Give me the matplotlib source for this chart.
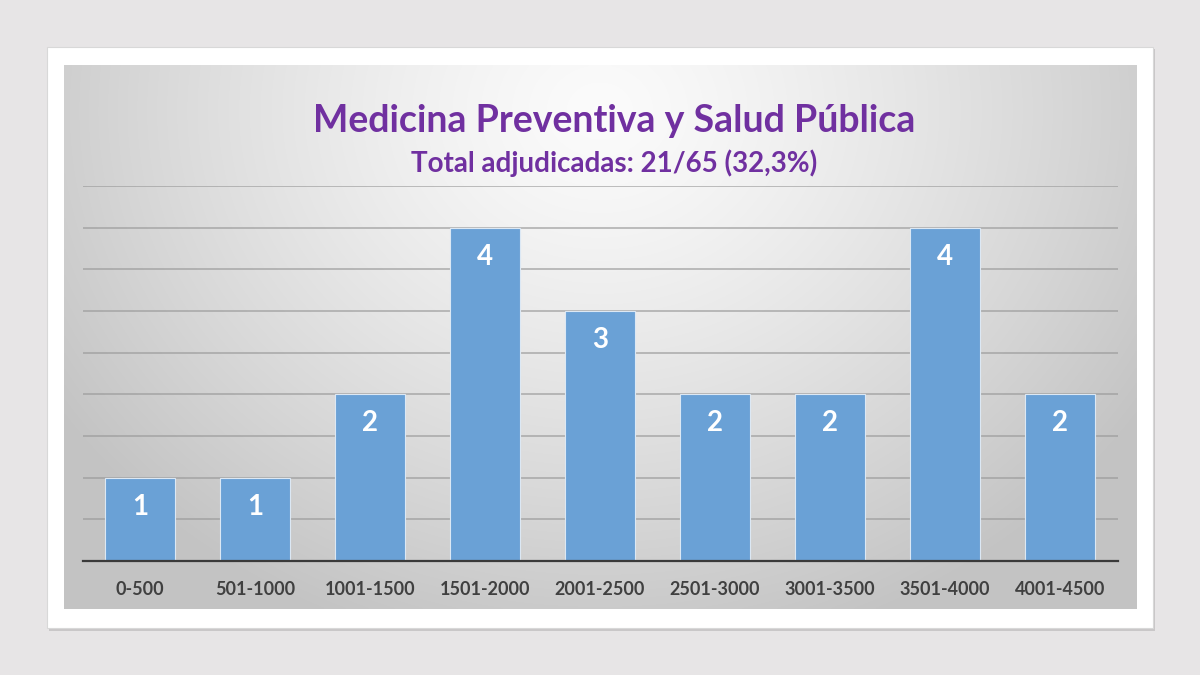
import matplotlib
matplotlib.use("Agg")
import matplotlib.pyplot as plt
import numpy as np
from matplotlib.patches import Rectangle

categories = ["0-500", "501-1000", "1001-1500", "1501-2000", "2001-2500",
              "2501-3000", "3001-3500", "3501-4000", "4001-4500"]
values = [1, 1, 2, 4, 3, 2, 2, 4, 2]
title = "Medicina Preventiva y Salud Pública"
subtitle = "Total adjudicadas: 21/65 (32,3%)"

W, H = 1200, 675
fig = plt.figure(figsize=(12, 6.75), dpi=100)
fig.patch.set_facecolor("#e7e5e6")

def fx(px): return px / W
def fy(py): return 1 - py / H

# card shadow + card
bg = fig.add_axes([0, 0, 1, 1], zorder=0)
bg.set_xlim(0, W); bg.set_ylim(H, 0); bg.axis("off")
bg.add_patch(Rectangle((49, 49), 1106, 582, facecolor="#c9c7c8", edgecolor="none"))
bg.add_patch(Rectangle((47, 47), 1106, 581, facecolor="white", edgecolor="#d8d8d8", lw=0.8))

# gradient chart area
x0, x1, y0, y1 = 64, 1137, 65, 609
gax = fig.add_axes([fx(x0), fy(y1), fx(x1 - x0), (y1 - y0) / H], zorder=1)
gx = np.linspace(x0, x1, 400)
gy = np.linspace(y0, y1, 220)
GX, GY = np.meshgrid(gx, gy)
r = np.sqrt(((GX - 600) / 650) ** 2 + ((GY - 110) / 560) ** 2)
r = np.clip(r, 0, 1)
v = 0.985 - 0.22 * r ** 1.3
img = np.dstack([v, v, v])
gax.imshow(img, extent=[x0, x1, y1, y0], aspect="auto", interpolation="bilinear")
gax.axis("off")

# main axes
ax_l, ax_r, ax_t, ax_b = 82.5, 1117.5, 186, 561
ax = fig.add_axes([fx(ax_l), fy(ax_b), fx(ax_r - ax_l), (ax_b - ax_t) / H], zorder=2)
ax.patch.set_alpha(0)
x = np.arange(len(categories))
ax.set_xlim(-0.5, len(categories) - 0.5)
ax.set_ylim(0, 4.5)
ax.set_yticks(np.arange(0.5, 4.51, 0.5))
ax.yaxis.grid(True, color="#9a9a9a", lw=1.1, alpha=0.8)
ax.set_axisbelow(True)
ax.tick_params(axis="y", left=False, labelleft=False)
ax.tick_params(axis="x", bottom=False, pad=11)
for s in ["top", "right", "left"]:
    ax.spines[s].set_visible(False)
ax.spines["bottom"].set_color("#3a3a3a")
ax.spines["bottom"].set_linewidth(1.6)

bars = ax.bar(x, values, width=0.61, color="#6aa1d6", edgecolor="#dce8f4", lw=0.8)
ax.set_xticks(x)
ax.set_xticklabels(categories, fontfamily="Lato", fontweight="bold", fontsize=13, color="#404040")
for xi, v_ in zip(x, values):
    ax.annotate(str(v_), (xi, v_), xytext=(0, -29), textcoords="offset pixels",
                ha="center", va="center", color="white", fontsize=20, fontweight="bold", fontfamily="Lato")

fig.text(fx(614), fy(121), title, ha="center", va="center", color="#7030a0",
         fontsize=27, fontweight="bold", fontfamily="Lato", zorder=5)
fig.text(fx(614), fy(163), subtitle, ha="center", va="center", color="#7030a0",
         fontsize=20, fontweight="bold", fontfamily="Lato", zorder=5)

fig.savefig("out.png", dpi=100, facecolor=fig.get_facecolor())
